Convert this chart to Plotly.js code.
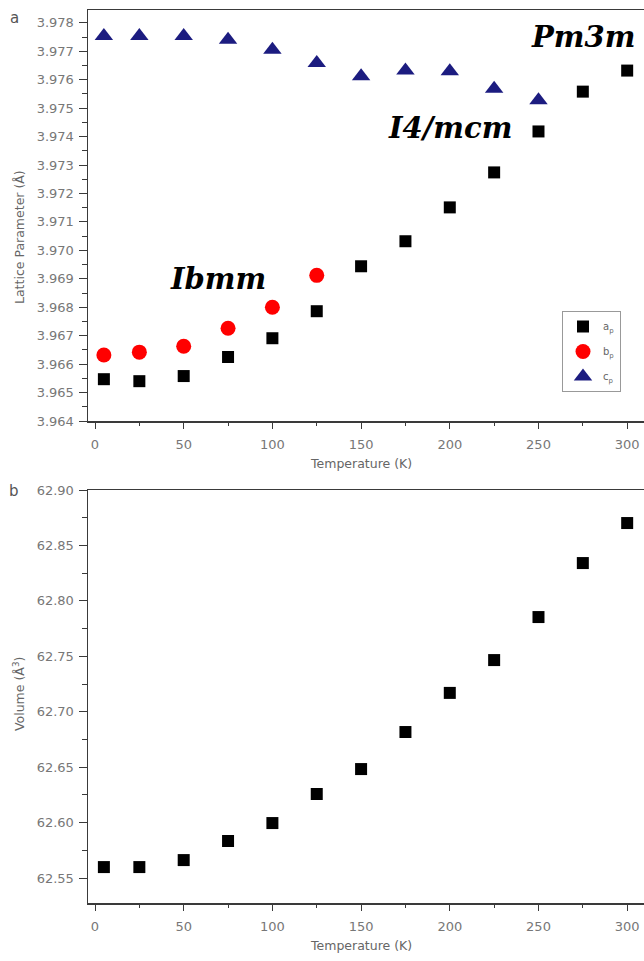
<!DOCTYPE html>
<html><head><meta charset="utf-8">
<script src="https://cdn.plot.ly/plotly-3.0.1.min.js"></script>
<style>html,body{margin:0;padding:0;overflow:hidden;background:#fff}</style>
</head><body><div id="chart"></div>
<script>
const temperature = [5, 25, 50, 75, 100, 125, 150, 175, 200, 225, 250, 275, 300];
const a_p = [3.96547, 3.96540, 3.96558, 3.96625, 3.96691, 3.96786, 3.96944, 3.97032, 3.97151, 3.97274, 3.97418, 3.97558, 3.97632];
const tempB = [5, 25, 50, 75, 100, 125];
const b_p = [3.96632, 3.96642, 3.96663, 3.96726, 3.96800, 3.96912];
const tempC = [5, 25, 50, 75, 100, 125, 150, 175, 200, 225, 250];
const c_p = [3.97754, 3.97754, 3.97754, 3.97740, 3.97705, 3.97659, 3.97612, 3.97632, 3.97630, 3.97568, 3.97528];
const volume = [62.5599, 62.5599, 62.5662, 62.5834, 62.5996, 62.6258, 62.6483, 62.6817, 62.7170, 62.7466, 62.7854, 62.8341, 62.8702];
const xTicks = [0, 50, 100, 150, 200, 250, 300];
const xMinor = [25, 75, 125, 175, 225, 275];
const latticeTicks = [3.964,3.965,3.966,3.967,3.968,3.969,3.970,3.971,3.972,3.973,3.974,3.975,3.976,3.977,3.978];
const volumeTicks = [62.55,62.60,62.65,62.70,62.75,62.80,62.85,62.90];
const volumeMinor = [62.575,62.625,62.675,62.725,62.775,62.825,62.875];

const W = 660, H = 961, M = {l: 88, r: 0, t: 10, b: 58};
const plotW = W - M.l - M.r, plotH = H - M.t - M.b;
const px = x => (x - M.l) / plotW;
const py = y => (H - M.b - y) / plotH;

const axisCol = '#3a3a3a';
const sans = 'DejaVu Sans, Verdana, sans-serif';
const tickFont = {family: sans, size: 13, color: '#777'};
const titleFont = {family: sans, size: 12.5, color: '#666'};
const serifFont = {family: 'DejaVu Serif, serif', size: 29, color: '#000'};

const traces = [
  {x: temperature, y: a_p, type: 'scatter', mode: 'markers', name: 'a<sub>p</sub>', legendgroup: 'a',
   marker: {symbol: 'square', size: 12, color: '#000'}, xaxis: 'x', yaxis: 'y'},
  {x: tempB, y: b_p, type: 'scatter', mode: 'markers', name: 'b<sub>p</sub>', legendgroup: 'b',
   marker: {symbol: 'circle', size: 15, color: '#ff0000'}, xaxis: 'x', yaxis: 'y'},
  {x: tempC, y: c_p, type: 'scatter', mode: 'markers', name: 'c<sub>p</sub>', legendgroup: 'c',
   marker: {symbol: 'triangle-up', size: 16, color: '#1c1c80'}, xaxis: 'x', yaxis: 'y'},
  {x: temperature, y: volume, type: 'scatter', mode: 'markers', name: 'V', showlegend: false,
   marker: {symbol: 'square', size: 12, color: '#000'}, xaxis: 'x2', yaxis: 'y2'}
];

function xAx(anchor) {
  return {
    anchor: anchor, domain: [0, 1], range: [-3.95, 318.5],
    tickvals: xTicks, ticks: 'outside', ticklen: 6, tickwidth: 1, tickcolor: axisCol, ticklabelstandoff: 5,
    minor: {tickvals: xMinor, ticks: 'outside', ticklen: 3, tickcolor: axisCol},
    showline: true, linecolor: axisCol, linewidth: 1.5, mirror: true, showgrid: false, zeroline: false,
    tickfont: tickFont
  };
}
function yAx(domain, range, ticks, fmt, minor) {
  return {
    domain: domain, range: range, tickvals: ticks, tickformat: fmt,
    ticks: 'outside', ticklen: 8, tickwidth: 1, tickcolor: axisCol, ticklabelstandoff: 2,
    minor: Object.assign({ticks: 'outside', ticklen: 5, tickcolor: axisCol}, minor),
    showline: true, linecolor: axisCol, linewidth: 1.5, mirror: true, showgrid: false, zeroline: false,
    tickfont: tickFont
  };
}

const layout = {
  width: W, height: H, margin: M,
  paper_bgcolor: '#fff', plot_bgcolor: '#fff',
  showlegend: true,
  xaxis: xAx('y'),
  xaxis2: xAx('y2'),
  yaxis: yAx([py(421), 1], [3.964, 3.97845], latticeTicks, '.3f', {dtick: 0.0005}),
  yaxis2: yAx([0, py(490)], [62.5275, 62.90], volumeTicks, '.2f', {tickvals: volumeMinor}),
  legend: {
    x: px(562), y: py(311), xanchor: 'left', yanchor: 'top',
    bgcolor: '#fff', bordercolor: '#999', borderwidth: 1,
    font: {family: sans, size: 10, color: '#666'},
    traceorder: 'grouped', tracegroupgap: 6, itemwidth: 30
  },
  annotations: [
    {text: '<b><i>Pm3m</i></b>', x: px(637), y: py(37), xanchor: 'right', yanchor: 'middle', font: serifFont},
    {text: '<b><i>I4/mcm</i></b>', x: px(514), y: py(128), xanchor: 'right', yanchor: 'middle', font: serifFont},
    {text: '<b><i>Ibmm</i></b>', x: px(218), y: py(279), xanchor: 'center', yanchor: 'middle', font: serifFont},
    {text: 'a', x: px(14), y: py(18), xanchor: 'center', yanchor: 'middle', font: {family: sans, size: 15, color: '#555'}},
    {text: 'b', x: px(14), y: py(491), xanchor: 'center', yanchor: 'middle', font: {family: sans, size: 15, color: '#555'}},
    {text: 'Lattice Parameter (Å)', x: px(19), y: py(237), textangle: -90, xanchor: 'center', yanchor: 'middle', font: titleFont},
    {text: 'Volume (Å<sup>3</sup>)', x: px(19), y: py(694), textangle: -90, xanchor: 'center', yanchor: 'middle', font: titleFont},
    {text: 'Temperature (K)', x: px(361), y: py(463), xanchor: 'center', yanchor: 'middle', font: titleFont},
    {text: 'Temperature (K)', x: px(361), y: py(945), xanchor: 'center', yanchor: 'middle', font: titleFont}
  ].map(a => Object.assign({xref: 'paper', yref: 'paper', showarrow: false}, a))
};

Plotly.newPlot('chart', traces, layout, {displayModeBar: false, staticPlot: true});
</script></body></html>
